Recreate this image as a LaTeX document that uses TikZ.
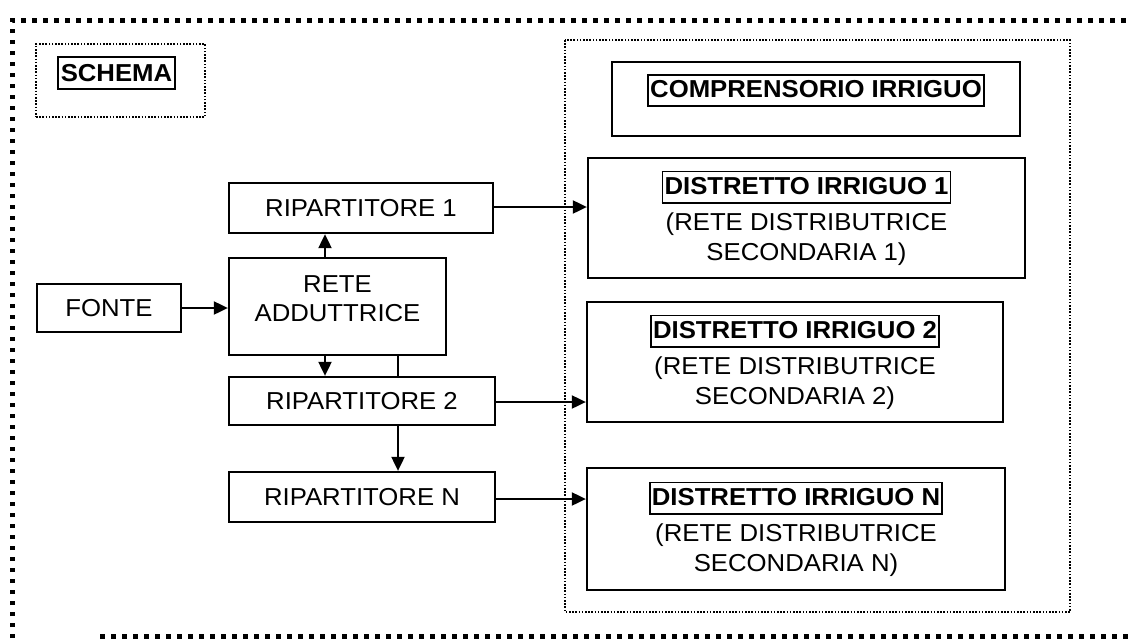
\documentclass[tikz,border=0pt]{standalone}
\usepackage{fontspec}
\setmainfont{Liberation Sans}[FakeStretch=1.05]
\usetikzlibrary{arrows.meta}
\newcommand\mylabbox[1]{{\setlength\fboxsep{1.2pt}\setlength\fboxrule{1.6pt}\fbox{\rule[-6.5pt]{0pt}{27.4pt}\bfseries #1}}}
\tikzset{
  box/.style={draw, line width=2.3pt, inner sep=0pt, align=center, font=\fontsize{24.5}{30}\selectfont},
  arr/.style={line width=2pt, -{Triangle[length=14pt,width=13pt]}},
  conn/.style={line width=2pt},
  bigdots/.style={line width=5pt, dash pattern=on 4.5pt off 6.5pt},
  smalldots/.style={line width=2pt, dash pattern=on 1.6pt off 1.6pt},
}
\begin{document}
\begin{tikzpicture}[x=1pt,y=-1pt]
\useasboundingbox (0,0) rectangle (1132,640);
% outer frame
\draw[bigdots] (12,638) -- (12,20) -- (1132,20);
\draw[bigdots] (100,636) -- (1132,636);
% schema
\node[draw, smalldots, minimum width=169pt, minimum height=73pt, inner sep=0pt] (schemabox) at (120.5,80.5) {};
\node[draw, line width=1.6pt, minimum width=117pt, minimum height=32pt, inner sep=0pt, font=\fontsize{24.5}{29}\selectfont\bfseries] (schema) at (116.5,73) {SCHEMA};
% right dotted region
\draw[smalldots] (565,40) rectangle (1070,612);
% left nodes
\node[box, minimum width=144pt, minimum height=48pt] (fonte) at (109,308) {FONTE};
\node[box, minimum width=217pt, minimum height=97pt, font=\fontsize{24.5}{29}\selectfont] (rete) at (337.5,306.5) {RETE\\ADDUTTRICE\rule[-16pt]{0pt}{1pt}};
\node[box, minimum width=264pt, minimum height=50pt] (rip1) at (361,208) {RIPARTITORE 1};
\node[box, minimum width=266pt, minimum height=48pt] (rip2) at (362,401) {RIPARTITORE 2};
\node[box, minimum width=266pt, minimum height=50pt] (ripn) at (362,497) {RIPARTITORE N};
% right nodes
\node[box, minimum width=408pt, minimum height=74pt] (comp) at (816,99) {\mylabbox{COMPRENSORIO IRRIGUO}\rule[-26.3pt]{0pt}{1pt}};
\node[box, minimum width=437pt, minimum height=120pt] (d1) at (806.5,218) {\mylabbox{DISTRETTO IRRIGUO 1}\\[6pt](RETE DISTRIBUTRICE\\SECONDARIA 1)};
\node[box, minimum width=416pt, minimum height=120pt] (d2) at (795,362) {\mylabbox{DISTRETTO IRRIGUO 2}\\[6pt](RETE DISTRIBUTRICE\\SECONDARIA 2)};
\node[box, minimum width=418pt, minimum height=122pt] (dn) at (796,529) {\mylabbox{DISTRETTO IRRIGUO N}\\[6pt](RETE DISTRIBUTRICE\\SECONDARIA N)};
% connectors
\draw[arr] (fonte.east) -- (fonte.east -| rete.west);
\draw[arr] ([xshift=-12.5pt]rete.north) -- ([xshift=-12.5pt]rete.north |- rip1.south);
\draw[arr] ([xshift=-12.5pt]rete.south) -- ([xshift=-12.5pt]rete.south |- rip2.north);
\draw[conn] ([xshift=60.5pt]rete.south) -- ([xshift=60.5pt]rete.south |- rip2.north);
\draw[arr] ([xshift=36pt]rip2.south) -- ([xshift=36pt]rip2.south |- ripn.north);
\draw[arr] ([yshift=1pt]rip1.east) -- ([yshift=1pt]rip1.east -| d1.west);
\draw[arr] ([yshift=-1pt]rip2.east) -- ([yshift=-1pt]rip2.east -| d2.west);
\draw[arr] ([yshift=-2pt]ripn.east) -- ([yshift=-2pt]ripn.east -| dn.west);
\end{tikzpicture}
\end{document}
